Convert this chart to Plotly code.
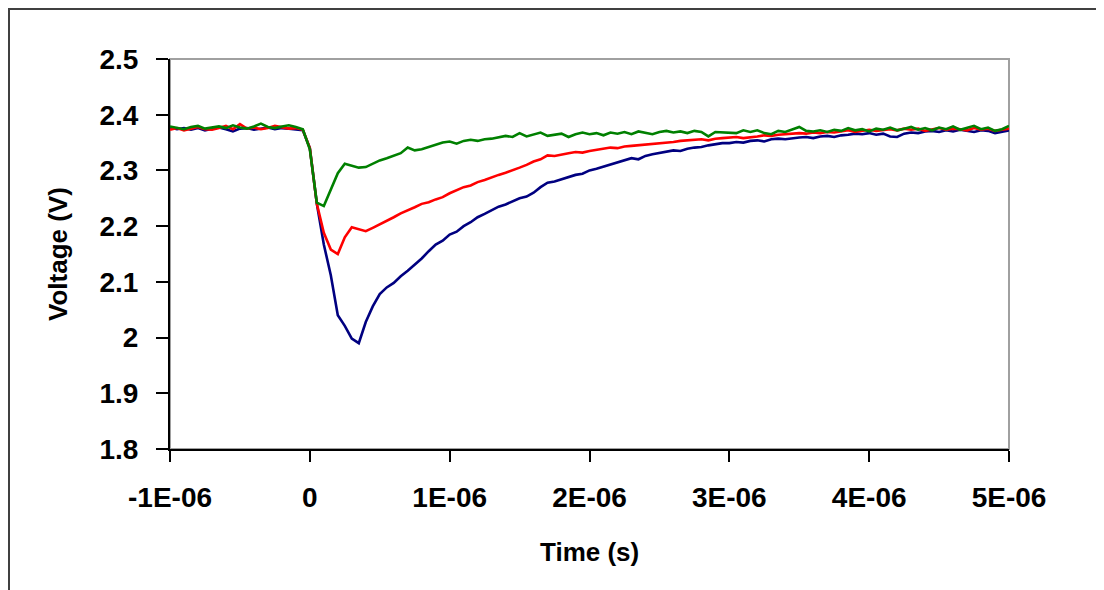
import plotly.graph_objects as go

# Sample times in microseconds
time_us = [
    -1.00, -0.95, -0.90, -0.85, -0.80, -0.75, -0.70, -0.65, -0.60, -0.55,
    -0.50, -0.45, -0.40, -0.35, -0.30, -0.25, -0.20, -0.15, -0.10, -0.05,
    0.00, 0.05, 0.10, 0.15, 0.20, 0.25, 0.30, 0.35, 0.40, 0.45,
    0.50, 0.55, 0.60, 0.65, 0.70, 0.75, 0.80, 0.85, 0.90, 0.95,
    1.00, 1.05, 1.10, 1.15, 1.20, 1.25, 1.30, 1.35, 1.40, 1.45,
    1.50, 1.55, 1.60, 1.65, 1.70, 1.75, 1.80, 1.85, 1.90, 1.95,
    2.00, 2.05, 2.10, 2.15, 2.20, 2.25, 2.30, 2.35, 2.40, 2.45,
    2.50, 2.55, 2.60, 2.65, 2.70, 2.75, 2.80, 2.85, 2.90, 2.95,
    3.00, 3.05, 3.10, 3.15, 3.20, 3.25, 3.30, 3.35, 3.40, 3.45,
    3.50, 3.55, 3.60, 3.65, 3.70, 3.75, 3.80, 3.85, 3.90, 3.95,
    4.00, 4.05, 4.10, 4.15, 4.20, 4.25, 4.30, 4.35, 4.40, 4.45,
    4.50, 4.55, 4.60, 4.65, 4.70, 4.75, 4.80, 4.85, 4.90, 4.95,
    5.00,
]

voltage_blue = [
    2.377, 2.374, 2.376, 2.373, 2.376, 2.372, 2.375, 2.377, 2.374, 2.370,
    2.375, 2.376, 2.373, 2.375, 2.377, 2.374, 2.376, 2.375, 2.374, 2.372,
    2.340, 2.240, 2.167, 2.112, 2.040, 2.021, 1.998, 1.990, 2.028, 2.056,
    2.078, 2.090, 2.098, 2.110, 2.120, 2.131, 2.142, 2.155, 2.167, 2.174,
    2.185, 2.190, 2.200, 2.207, 2.216, 2.222, 2.229, 2.235, 2.239, 2.244,
    2.250, 2.253, 2.260, 2.270, 2.278, 2.280, 2.284, 2.287, 2.292, 2.294,
    2.300, 2.303, 2.307, 2.311, 2.314, 2.318, 2.322, 2.320, 2.326, 2.329,
    2.331, 2.334, 2.336, 2.335, 2.339, 2.341, 2.342, 2.345, 2.347, 2.349,
    2.349, 2.351, 2.350, 2.353, 2.354, 2.352, 2.356, 2.357, 2.356, 2.358,
    2.359, 2.360, 2.358, 2.361, 2.362, 2.360, 2.363, 2.364, 2.366, 2.365,
    2.367, 2.364, 2.366, 2.361, 2.360, 2.366, 2.368, 2.367, 2.370, 2.371,
    2.369, 2.372, 2.370, 2.373, 2.371, 2.369, 2.372, 2.371, 2.367, 2.370,
    2.372,
]

voltage_red = [
    2.373, 2.376, 2.372, 2.375, 2.378, 2.374, 2.373, 2.376, 2.380, 2.374,
    2.383, 2.375, 2.377, 2.374, 2.376, 2.380, 2.377, 2.375, 2.376, 2.373,
    2.340, 2.240, 2.188, 2.158, 2.150, 2.180, 2.198, 2.195, 2.191, 2.197,
    2.203, 2.210, 2.216, 2.223, 2.228, 2.234, 2.240, 2.243, 2.248, 2.252,
    2.259, 2.264, 2.270, 2.273, 2.279, 2.283, 2.288, 2.292, 2.296, 2.300,
    2.305, 2.310, 2.316, 2.320, 2.327, 2.326, 2.329, 2.331, 2.333, 2.332,
    2.335, 2.337, 2.338, 2.341, 2.340, 2.343, 2.344, 2.345, 2.346, 2.347,
    2.349, 2.350, 2.351, 2.353, 2.354, 2.355, 2.356, 2.354, 2.357, 2.358,
    2.359, 2.360, 2.358, 2.359, 2.361, 2.363, 2.362, 2.364, 2.365, 2.366,
    2.367, 2.366, 2.368, 2.367, 2.369, 2.368, 2.370, 2.372, 2.369, 2.371,
    2.373, 2.371, 2.372, 2.374, 2.372, 2.375, 2.373, 2.375, 2.371, 2.374,
    2.376, 2.373, 2.375, 2.374, 2.372, 2.376, 2.373, 2.375, 2.371, 2.373,
    2.375,
]

voltage_green = [
    2.379, 2.376, 2.374, 2.378, 2.380, 2.375, 2.377, 2.379, 2.376, 2.381,
    2.377, 2.375, 2.379, 2.384, 2.378, 2.376, 2.379, 2.381, 2.378, 2.374,
    2.338, 2.242, 2.236, 2.265, 2.295, 2.312, 2.309, 2.305, 2.306, 2.312,
    2.318, 2.322, 2.326, 2.331, 2.341, 2.336, 2.338, 2.342, 2.345, 2.350,
    2.352, 2.348, 2.353, 2.355, 2.353, 2.356, 2.357, 2.359, 2.362, 2.360,
    2.367, 2.361, 2.364, 2.368, 2.362, 2.364, 2.366, 2.360, 2.365, 2.368,
    2.365, 2.367, 2.363, 2.368, 2.366, 2.369, 2.365, 2.370, 2.367, 2.365,
    2.369, 2.371, 2.368, 2.370, 2.367, 2.371, 2.369, 2.361, 2.369, 2.368,
    2.368, 2.367, 2.372, 2.369, 2.372, 2.367, 2.365, 2.371, 2.369, 2.373,
    2.378, 2.371, 2.370, 2.372, 2.369, 2.373, 2.371, 2.376, 2.372, 2.374,
    2.370, 2.375, 2.373, 2.377, 2.372, 2.375, 2.378, 2.373, 2.376, 2.372,
    2.377, 2.374, 2.379, 2.373, 2.376, 2.380, 2.374, 2.377, 2.371, 2.374,
    2.380,
]

x_tick_vals_us = [-1, 0, 1, 2, 3, 4, 5]
x_tick_text = ["-1E-06", "0", "1E-06", "2E-06", "3E-06", "4E-06", "5E-06"]
y_tick_vals = [1.8, 1.9, 2.0, 2.1, 2.2, 2.3, 2.4, 2.5]
y_tick_text = ["1.8", "1.9", "2", "2.1", "2.2", "2.3", "2.4", "2.5"]

time_s = [t * 1e-6 for t in time_us]

FONT = "Liberation Sans, Arial, sans-serif"

fig = go.Figure()
for vals, color in [(voltage_blue, "#000080"), (voltage_red, "#FF0000"), (voltage_green, "#008000")]:
    fig.add_trace(go.Scatter(x=time_s, y=vals, mode="lines",
                             line=dict(color=color, width=2.6), showlegend=False))

# The page places the figure at an 8 px body margin; work in page pixels and offset.
OFF = 8
W, H = 1104 - OFF, 590 - OFF
L, R, T, B = 170 - OFF, 1009 - OFF, 59 - OFF, 449 - OFF
pw, ph = R - L, B - T

def px_x(p):
    return (p - OFF - L) / pw

def px_y(p):
    return (B - (p - OFF)) / ph

tick_font = dict(family=FONT, size=28, color="black", weight="bold")
title_font = dict(family=FONT, size=26, color="black", weight="bold")

fig.update_layout(
    width=W, height=H,
    margin=dict(l=L, r=W - R, t=T, b=H - B),
    paper_bgcolor="white", plot_bgcolor="white",
    font=dict(family=FONT, color="black"),
    xaxis=dict(
        range=[-1e-6, 5e-6], tickvals=[v * 1e-6 for v in x_tick_vals_us], ticktext=x_tick_text,
        showgrid=False, zeroline=False, showline=True, linecolor="black", linewidth=2,
        ticks="outside", ticklen=11, tickwidth=2, tickcolor="black",
        tickfont=tick_font, ticklabelstandoff=11,
    ),
    yaxis=dict(
        range=[1.8, 2.5], tickvals=y_tick_vals, ticktext=y_tick_text,
        showgrid=False, zeroline=False, showline=True, linecolor="black", linewidth=2,
        ticks="outside", ticklen=12, tickwidth=2, tickcolor="black",
        tickfont=tick_font, ticklabelstandoff=12,
    ),
    shapes=[
        # gray frame of plot area (top/right)
        dict(type="rect", xref="paper", yref="paper", x0=0, x1=1, y0=0, y1=1,
             line=dict(color="#A0A0A0", width=2), layer="below"),
        # outer chart border
        dict(type="rect", xref="paper", yref="paper",
             x0=px_x(9), x1=px_x(1130), y0=px_y(620), y1=px_y(9),
             line=dict(color="#404040", width=2), layer="below"),
    ],
    annotations=[
        dict(text="Voltage (V)", xref="paper", yref="paper", x=px_x(58), y=px_y(254),
             showarrow=False, textangle=-90, font=title_font,
             xanchor="center", yanchor="middle"),
        dict(text="Time (s)", xref="paper", yref="paper", x=px_x(589), y=px_y(552),
             showarrow=False, font=title_font,
             xanchor="center", yanchor="middle"),
    ],
)

fig.write_html("out.html")
